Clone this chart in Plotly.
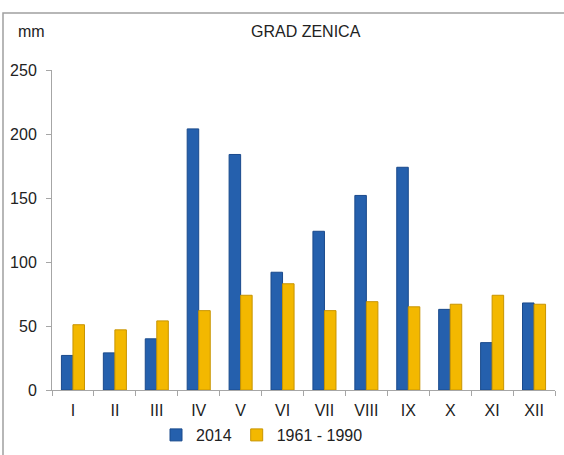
import plotly.graph_objects as go

months = ["I", "II", "III", "IV", "V", "VI", "VII", "VIII", "IX", "X", "XI", "XII"]
vals_2014 = [27, 29, 40, 204, 184, 92, 124, 152, 174, 63, 37, 68]
vals_1961_1990 = [51, 47, 54, 62, 74, 83, 62, 69, 65, 67, 74, 67]
y_ticks = [0, 50, 100, 150, 200, 250]

W, H = 564, 455
L, R, T, B = 52, 9, 70, 65
pw, ph = W - L - R, H - T - B

def px(x):
    return (x - L) / pw

def py(y):
    return (H - B - y) / ph

fig = go.Figure()
fig.add_trace(go.Bar(x=months, y=vals_2014, name="2014",
                     marker=dict(color="#2560ad", line=dict(color="#1a4a8c", width=1))))
fig.add_trace(go.Bar(x=months, y=vals_1961_1990, name="1961 - 1990",
                     marker=dict(color="#f3b800", line=dict(color="#c89400", width=1))))

font = dict(family="Liberation Sans, Arial, sans-serif", size=16, color="#222222")

fig.update_layout(
    width=W, height=H,
    margin=dict(l=L, r=R, t=T, b=B, autoexpand=False),
    paper_bgcolor="white", plot_bgcolor="white",
    barmode="group", bargap=0.45, bargroupgap=0,
    font=font,
    showlegend=True,
    legend=dict(orientation="h", x=px(262), xanchor="center", y=py(435), yanchor="middle",
                font=dict(family=font["family"], size=16, color="#222222"),
                itemwidth=30, tracegroupgap=0, bgcolor="rgba(0,0,0,0)"),
    xaxis=dict(type="category", showline=True, linecolor="#a6a6a6", linewidth=1,
               ticks="outside", tickson="boundaries", ticklen=5, tickcolor="#a6a6a6",
               showgrid=False, tickfont=font, automargin=False, ticklabelstandoff=6),
    yaxis=dict(range=[0, 250], tickvals=y_ticks, showline=True, linecolor="#a6a6a6",
               linewidth=1, ticks="outside", ticklen=5, tickcolor="#a6a6a6",
               showgrid=False, zeroline=False, tickfont=font, automargin=False,
               ticklabelstandoff=6),
    shapes=[dict(type="rect", xref="paper", yref="paper",
                 x0=px(3), x1=px(600), y0=py(480), y1=py(13),
                 line=dict(color="#a0a0a0", width=1.5), fillcolor="rgba(0,0,0,0)")],
    annotations=[
        dict(text="GRAD ZENICA", xref="paper", yref="paper", x=px(306), y=py(31),
             showarrow=False, xanchor="center", yanchor="middle",
             font=dict(family=font["family"], size=16, color="#222222")),
        dict(text="mm", xref="paper", yref="paper", x=px(31), y=py(31),
             showarrow=False, xanchor="center", yanchor="middle", font=font),
    ],
)

fig.write_html("out.html", config={"displayModeBar": False},
               post_script="document.body.style.margin='0';document.body.style.overflow='hidden';")
